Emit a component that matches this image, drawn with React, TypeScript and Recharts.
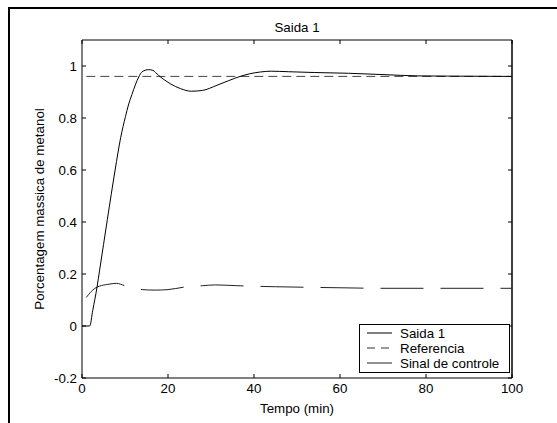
import React from 'react';
import { LineChart, Line, XAxis, YAxis, ReferenceLine, Legend } from 'recharts';

// ---- data ----
const saidaT = [0, 1.8, 2.5, 3.5, 4.1, 5.9, 7.7, 9.0, 10.1, 10.8, 11.6, 12.4, 13.2, 14, 15.5, 16.5, 17.8, 20.5, 22.9, 25.4, 28, 31.4, 34, 36.8, 39, 41.5, 44, 48, 54, 62, 70, 78, 85, 100];
const saidaV = [0, 0, 0.06, 0.15, 0.215, 0.41, 0.6, 0.725, 0.805, 0.85, 0.89, 0.927, 0.958, 0.978, 0.986, 0.983, 0.964, 0.932, 0.913, 0.903, 0.906, 0.926, 0.943, 0.96, 0.97, 0.977, 0.98, 0.978, 0.975, 0.972, 0.967, 0.962, 0.961, 0.96];

const refT = [1, 100];
const refV = [0.96, 0.96];

const ctrlT = [1, 2, 3, 4, 6, 8, 10, 14, 17, 20, 24, 28, 31, 36, 40, 45, 52, 60, 70, 100];
const ctrlV = [0.11, 0.13, 0.145, 0.153, 0.16, 0.164, 0.155, 0.14, 0.138, 0.14, 0.15, 0.155, 0.158, 0.155, 0.153, 0.151, 0.149, 0.147, 0.145, 0.145];

const xTicks = [0, 20, 40, 60, 80, 100];
const yTicks = [-0.2, 0, 0.2, 0.4, 0.6, 0.8, 1];
const legendNames = ['Saida 1', 'Referencia', 'Sinal de controle'];

const saidaData = saidaT.map((t, i) => ({ t, v: saidaV[i] }));
const refData = refT.map((t, i) => ({ t, v: refV[i] }));
const ctrlData = ctrlT.map((t, i) => ({ t, v: ctrlV[i] }));

// ---- layout ----
const W = 547;
const H = 414;
const PL = 72;
const PR = 502;
const PT = 31;
const PB = 369;
const FS = 13.33;
const FONT = '"Liberation Sans", Arial, sans-serif';

const XTick = (props: any) => {
  const { x, payload } = props;
  return (
    <g>
      <line x1={x} y1={PB} x2={x} y2={PB - 4} stroke="#000" />
      <line x1={x} y1={PT} x2={x} y2={PT + 4} stroke="#000" />
      <text x={x} y={384} textAnchor="middle" fontSize={FS} fontFamily={FONT} fill="#000">
        {payload.value}
      </text>
    </g>
  );
};

const YTick = (props: any) => {
  const { y, payload } = props;
  return (
    <g>
      <line x1={PL} y1={y} x2={PL + 4} y2={y} stroke="#000" />
      <line x1={PR} y1={y} x2={PR - 4} y2={y} stroke="#000" />
      <text x={67} y={y + 5} textAnchor="end" fontSize={FS} fontFamily={FONT} fill="#000">
        {payload.value}
      </text>
    </g>
  );
};

const LegendBox = () => (
  <svg width={152} height={50} style={{ display: 'block' }}>
    <rect x={0.5} y={0.5} width={150} height={48} fill="#fff" stroke="#000" strokeWidth={1} />
    <line x1={8} y1={9} x2={33} y2={9} stroke="#000" />
    <text x={41} y={14} fontSize={FS} fontFamily={FONT}>{legendNames[0]}</text>
    <line x1={8} y1={24} x2={33} y2={24} stroke="#333" strokeDasharray="8 6" />
    <text x={41} y={29} fontSize={FS} fontFamily={FONT}>{legendNames[1]}</text>
    <line x1={8} y1={39} x2={33} y2={39} stroke="#222" />
    <text x={41} y={44} fontSize={FS} fontFamily={FONT}>{legendNames[2]}</text>
  </svg>
);

export default function App() {
  return (
    <div
      style={{
        position: 'absolute',
        left: 8,
        top: 7,
        width: W + 2,
        height: H + 2,
        borderTop: '2px solid #000',
        borderLeft: '2px solid #000',
        boxSizing: 'border-box',
        background: '#fff',
      }}
    >
      <LineChart width={W} height={H} margin={{ top: PT, right: W - PR, left: 0, bottom: 0 }}>
        <XAxis
          dataKey="t"
          type="number"
          domain={[0, 100]}
          ticks={xTicks}
          height={H - PB}
          tick={<XTick />}
          tickLine={false}
          axisLine={{ stroke: '#000' }}
          allowDataOverflow
          label={{
            content: () => (
              <text x={287} y={403.5} textAnchor="middle" fontSize={FS} fontFamily={FONT} fill="#000">
                Tempo (min)
              </text>
            ),
          }}
        />
        <YAxis
          type="number"
          domain={[-0.2, 1.1]}
          ticks={yTicks}
          width={PL}
          tick={<YTick />}
          tickLine={false}
          axisLine={{ stroke: '#000' }}
          allowDataOverflow
          label={{
            content: () => (
              <text
                x={34}
                y={200}
                transform="rotate(-90 34 200)"
                textAnchor="middle"
                fontSize={FS}
                fontFamily={FONT}
                fill="#000"
              >
                Porcentagem massica de metanol
              </text>
            ),
          }}
        />
        <ReferenceLine
          y={1.1}
          stroke="#000"
          label={{
            content: () => (
              <text x={287} y={23} textAnchor="middle" fontSize={FS} fontFamily={FONT} fill="#000">
                Saida 1
              </text>
            ),
          }}
        />
        <ReferenceLine x={100} stroke="#000" strokeWidth={1.5} />
        <Line data={refData} dataKey="v" type="linear" stroke="#444" strokeDasharray="9 5" dot={false} isAnimationActive={false} />
        <Line data={ctrlData} dataKey="v" type="monotone" stroke="#222" strokeDasharray="43 17" dot={false} isAnimationActive={false} />
        <Line data={saidaData} dataKey="v" type="monotone" stroke="#000" dot={false} isAnimationActive={false} />
        <Legend
          layout="vertical"
          align="center"
          verticalAlign="middle"
          content={<LegendBox />}
          wrapperStyle={{ position: 'absolute', left: 349, top: 315, width: 152, height: 50 }}
        />
      </LineChart>
    </div>
  );
}
